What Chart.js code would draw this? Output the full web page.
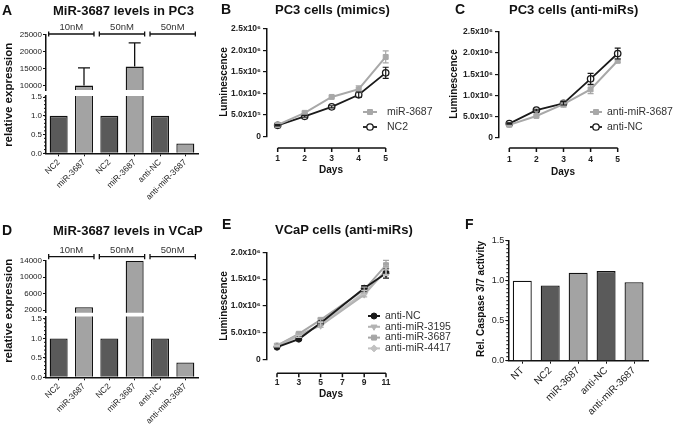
<!DOCTYPE html>
<html><head><meta charset="utf-8">
<script src="https://cdn.jsdelivr.net/npm/chart.js@4.4.0/dist/chart.umd.min.js"></script>
<style>
html,body{margin:0;padding:0;background:#fff;}
body{width:674px;height:424px;position:relative;overflow:hidden;font-family:"Liberation Sans",Arial,sans-serif;}
canvas{position:absolute;}
.t{position:absolute;white-space:nowrap;color:#111;font-weight:bold;line-height:1;}
.rot{position:absolute;white-space:nowrap;color:#111;font-weight:bold;line-height:1;text-align:center;transform:rotate(-90deg);}
.c{position:absolute;white-space:nowrap;color:#111;font-weight:bold;line-height:1;text-align:center;}
</style></head><body>
<canvas id="aTop"></canvas><canvas id="aBot"></canvas>
<canvas id="dTop"></canvas><canvas id="dBot"></canvas>
<canvas id="chB"></canvas><canvas id="chC"></canvas><canvas id="chE"></canvas><canvas id="chF"></canvas>

<div class="t" style="left:2px;top:3.2px;font-size:14px">A</div>
<div class="t" style="left:53px;top:4px;font-size:13px">MiR-3687 levels in PC3</div>
<div class="t" style="left:221px;top:1.7px;font-size:14px">B</div>
<div class="t" style="left:275px;top:2.5px;font-size:13px">PC3 cells (mimics)</div>
<div class="t" style="left:455px;top:1.7px;font-size:14px">C</div>
<div class="t" style="left:509px;top:2.5px;font-size:13px">PC3 cells (anti-miRs)</div>
<div class="t" style="left:2px;top:223.2px;font-size:14px">D</div>
<div class="t" style="left:53px;top:224px;font-size:13px">MiR-3687 levels in VCaP</div>
<div class="t" style="left:222px;top:217.2px;font-size:14px">E</div>
<div class="t" style="left:275px;top:223px;font-size:13px">VCaP cells (anti-miRs)</div>
<div class="t" style="left:465px;top:217.2px;font-size:14px">F</div>

<div class="rot" style="left:-66px;top:89px;width:150px;font-size:11.5px">relative expression</div>
<div class="rot" style="left:-66px;top:305px;width:150px;font-size:11.5px">relative expression</div>
<div class="rot" style="left:164px;top:77px;width:120px;font-size:10px">Luminescence</div>
<div class="rot" style="left:394px;top:79px;width:120px;font-size:10px">Luminescence</div>
<div class="rot" style="left:164px;top:301px;width:120px;font-size:10px">Luminescence</div>
<div class="rot" style="left:406px;top:294px;width:150px;font-size:10px">Rel. Caspase 3/7 activity</div>
<div class="c" style="left:301px;top:165.4px;width:60px;font-size:10px">Days</div>
<div class="c" style="left:533px;top:167px;width:60px;font-size:10px">Days</div>
<div class="c" style="left:301px;top:388.5px;width:60px;font-size:10px">Days</div>

<script>
// ---------------- data ----------------
const aCategories = ['NC2', 'miR-3687', 'NC2', 'miR-3687', 'anti-NC', 'anti-miR-3687'];
const aValues = [1, 10000, 1, 15600, 1, 0.26];
const aErrors = [0, 5200, 0, 7000, 0, 0];
const aTopTicks = [10000, 15000, 20000, 25000];
const aBottomTicks = [0, 0.5, 1, 1.5];

const concGroups = [[0, 1], [2, 3], [4, 5]];
const concLabels = ['10nM', '50nM', '50nM'];

const dCategories = ['NC2', 'miR-3687', 'NC2', 'miR-3687', 'anti-NC', 'anti-miR-3687'];
const dValues = [1, 2700, 1, 14000, 1, 0.38];
const dTopTicks = [2000, 6000, 10000, 14000];
const dBottomTicks = [0, 0.5, 1, 1.5];

const bDays = [1, 2, 3, 4, 5];
const bMiR3687 = [270000, 550000, 920000, 1100000, 1850000];
const bMiR3687Err = [15000, 20000, 25000, 80000, 140000];
const bNC2 = [260000, 470000, 690000, 970000, 1480000];
const bNC2Err = [15000, 20000, 25000, 60000, 130000];

const cDays = [1, 2, 3, 4, 5];
const cAntiMiR3687 = [300000, 510000, 790000, 1140000, 1820000];
const cAntiMiR3687Err = [15000, 20000, 70000, 100000, 50000];
const cAntiNC = [330000, 650000, 810000, 1390000, 1990000];
const cAntiNCErr = [15000, 20000, 40000, 130000, 130000];

const lumTickValues = [0, 500000, 1000000, 1500000, 2000000, 2500000];
const lumTickLabels = ['0', '5.0x10⁵', '1.0x10⁶', '1.5x10⁶', '2.0x10⁶', '2.5x10⁶'];
const dayTicks = [1, 2, 3, 4, 5];

const eDays = [1, 3, 5, 9, 11];
const eAntiNC = [230000, 380000, 680000, 1330000, 1610000];
const eAntiNCErr = [15000, 20000, 30000, 50000, 90000];
const eAntiMiR3195 = [260000, 460000, 630000, 1210000, 1670000];
const eAntiMiR3195Err = [15000, 20000, 30000, 40000, 80000];
const eAntiMiR3687 = [260000, 480000, 740000, 1300000, 1760000];
const eAntiMiR3687Err = [15000, 20000, 30000, 50000, 90000];
const eAntiMiR4417 = [250000, 430000, 660000, 1250000, 1640000];
const eAntiMiR4417Err = [15000, 20000, 30000, 40000, 70000];
const eTickValues = [0, 500000, 1000000, 1500000, 2000000];
const eTickLabels = ['0', '5.0x10⁵', '1.0x10⁶', '1.5x10⁶', '2.0x10⁶'];
const eDayTicks = [1, 3, 5, 7, 9, 11];

const fCategories = ['NT', 'NC2', 'miR-3687', 'anti-NC', 'anti-miR-3687'];
const fValues = [1.0, 0.94, 1.10, 1.12, 0.98];
const fTicks = [0, 0.5, 1.0, 1.5];

// ---------------- styling ----------------
const FONT = '"Liberation Sans", Arial, sans-serif';
Chart.defaults.font.family = FONT;
Chart.defaults.color = '#222';
const DARK = '#5a5a5a', LIGHT = '#a3a3a3', INK = '#111';

// ---------------- plugins ----------------
const errorBars = {
  id: 'errorBars',
  afterDatasetsDraw(chart, args, o) {
    const ctx = chart.ctx, ys = chart.scales.y, a = chart.chartArea;
    ctx.save();
    if (o.clip) { ctx.beginPath(); ctx.rect(a.left, a.top, a.right - a.left, a.bottom - a.top); ctx.clip(); }
    chart.data.datasets.forEach((ds, i) => {
      if (!ds.errors) return;
      const meta = chart.getDatasetMeta(i);
      ctx.strokeStyle = o.color || ds.borderColor;
      ctx.lineWidth = o.width;
      meta.data.forEach((el, j) => {
        const e = ds.errors[j]; if (!e) return;
        const raw = ds.data[j]; const v = (typeof raw === 'object') ? raw.y : raw;
        const yTop = ys.getPixelForValue(v + e);
        const yBot = o.upOnly ? ys.getPixelForValue(v) : ys.getPixelForValue(v - e);
        const x = el.x;
        ctx.beginPath();
        ctx.moveTo(x, yBot); ctx.lineTo(x, yTop);
        ctx.moveTo(x - o.cap, yTop); ctx.lineTo(x + o.cap, yTop);
        if (!o.upOnly) { ctx.moveTo(x - o.cap, yBot); ctx.lineTo(x + o.cap, yBot); }
        ctx.stroke();
      });
    });
    ctx.restore();
  }
};

const brackets = {
  id: 'brackets',
  afterDraw(chart, args, o) {
    const meta = chart.getDatasetMeta(0), ctx = chart.ctx;
    const y = chart.chartArea.top - o.dy;
    ctx.save();
    ctx.strokeStyle = INK; ctx.lineWidth = 1.3; ctx.fillStyle = '#333';
    ctx.font = o.font; ctx.textAlign = 'center'; ctx.textBaseline = 'alphabetic';
    o.groups.forEach((g, k) => {
      const e1 = meta.data[g[0]], e2 = meta.data[g[1]];
      const x1 = e1.x - e1.width / 2 - o.ext, x2 = e2.x + e2.width / 2 + o.ext;
      ctx.beginPath();
      ctx.moveTo(x1, y); ctx.lineTo(x2, y);
      ctx.moveTo(x1, y - o.cap); ctx.lineTo(x1, y + o.cap);
      ctx.moveTo(x2, y - o.cap); ctx.lineTo(x2, y + o.cap);
      ctx.stroke();
      ctx.fillText(o.labels[k], (x1 + x2) / 2, y - o.textDy);
    });
    ctx.restore();
  }
};

const minorTicks = {
  id: 'minorTicks',
  afterDraw(chart, args, o) {
    const ys = chart.scales.y, ctx = chart.ctx, x = chart.chartArea.left;
    ctx.save(); ctx.strokeStyle = INK; ctx.lineWidth = 1;
    const n = Math.floor((ys.max - ys.min) / o.step + 1e-6);
    ctx.beginPath();
    for (let k = 0; k <= n; k++) {
      const v = ys.min + k * o.step;
      const y = ys.getPixelForValue(v);
      ctx.moveTo(x, y); ctx.lineTo(x - o.len, y);
    }
    ctx.stroke(); ctx.restore();
  }
};

const offsetXAxis = {
  id: 'offsetXAxis',
  afterDraw(chart, args, o) {
    const xs = chart.scales.x, ctx = chart.ctx;
    const y = chart.chartArea.bottom + o.gap;
    const px = xs.ticks.map(t => xs.getPixelForValue(t.value));
    ctx.save(); ctx.strokeStyle = INK; ctx.lineWidth = 1.5;
    ctx.beginPath();
    ctx.moveTo(px[0], y); ctx.lineTo(px[px.length - 1], y);
    px.forEach(p => { ctx.moveTo(p, y); ctx.lineTo(p, y + o.len); });
    ctx.stroke(); ctx.restore();
  }
};

const inlineLegend = {
  id: 'inlineLegend',
  afterDraw(chart, args, o) {
    const ctx = chart.ctx;
    chart.data.datasets.forEach((ds, i) => {
      const y = o.y + i * o.rowH;
      ctx.save();
      ctx.strokeStyle = ds.borderColor; ctx.lineWidth = ds.borderWidth;
      ctx.beginPath(); ctx.moveTo(o.x, y); ctx.lineTo(o.x + o.len, y); ctx.stroke();
      ctx.fillStyle = ds.pointBackgroundColor; ctx.strokeStyle = ds.pointBorderColor; ctx.lineWidth = ds.pointBorderWidth;
      Chart.helpers.drawPoint(ctx, { pointStyle: ds.pointStyle, rotation: ds.pointRotation || 0, radius: ds.pointRadius, borderWidth: ds.pointBorderWidth }, o.x + o.len / 2, y);
      ctx.fillStyle = o.color; ctx.font = o.font; ctx.textBaseline = 'middle'; ctx.textAlign = 'left';
      ctx.fillText(ds.label, o.x + o.len + o.textGap, y);
      ctx.restore();
    });
  }
};

// ---------------- builders ----------------
function setup(id, rect, area) {
  const c = document.getElementById(id);
  c.width = rect[2]; c.height = rect[3];
  c.style.left = rect[0] + 'px'; c.style.top = rect[1] + 'px';
  c.style.width = rect[2] + 'px'; c.style.height = rect[3] + 'px';
  return {
    canvas: c,
    padding: { left: 0, top: area[1] - rect[1], right: rect[0] + rect[2] - area[2], bottom: 0 },
    yW: area[0] - rect[0],
    xH: rect[1] + rect[3] - area[3]
  };
}

function barChart(id, rect, area, o) {
  const s = setup(id, rect, area);
  return new Chart(s.canvas, {
    type: 'bar',
    data: { labels: o.labels, datasets: [{
      data: o.values, errors: o.errors, backgroundColor: o.colors, borderColor: INK,
      borderWidth: 1.3, barPercentage: o.barPct, categoryPercentage: 1, clip: 0 }] },
    options: {
      responsive: false, animation: false, events: [],
      layout: { padding: s.padding },
      plugins: {
        legend: { display: false }, tooltip: { enabled: false },
        errorBars: o.errors ? { clip: true, upOnly: true, cap: 6, width: 1.3, color: INK } : false,
        brackets: o.brackets || false,
        minorTicks: o.minor || false
      },
      scales: {
        x: {
          offset: true,
          border: { display: o.showX, color: INK, width: 1.5 },
          grid: { display: o.showX, drawOnChartArea: false, drawTicks: o.showX, tickLength: 3, offset: false, color: INK },
          ticks: { display: o.showX, font: { size: o.xFont }, color: '#222', maxRotation: 45, minRotation: 45, padding: 1, autoSkip: false },
          afterFit: sc => { sc.height = s.xH; sc.paddingLeft = 0; sc.paddingRight = 0; }
        },
        y: {
          min: o.min, max: o.max,
          border: { display: true, color: INK, width: 1.5 },
          grid: { drawOnChartArea: false, drawTicks: true, tickLength: 3, color: INK },
          ticks: { font: { size: o.yFont }, color: '#222', padding: 1, callback: o.fmt },
          afterBuildTicks: sc => { sc.ticks = o.ticks.map(v => ({ value: v })); },
          afterFit: sc => { sc.width = s.yW; sc.paddingTop = 0; sc.paddingBottom = 0; }
        }
      }
    },
    plugins: [errorBars, brackets, minorTicks]
  });
}

function lineChart(id, rect, area, o) {
  const s = setup(id, rect, area);
  return new Chart(s.canvas, {
    type: 'line',
    data: { datasets: o.series.map(sr => ({
      label: sr.label,
      data: o.days.map((d, i) => ({ x: d, y: sr.values[i] })),
      errors: sr.errors,
      borderColor: sr.color, borderWidth: sr.lw, backgroundColor: sr.fill,
      pointStyle: sr.style, pointRotation: sr.rot || 0, pointRadius: sr.r,
      pointBackgroundColor: sr.fill, pointBorderColor: sr.color, pointBorderWidth: sr.bw,
      tension: 0, clip: false
    })) },
    options: {
      responsive: false, animation: false, events: [],
      layout: { padding: s.padding },
      plugins: {
        legend: { display: false }, tooltip: { enabled: false },
        errorBars: { clip: false, upOnly: false, cap: 3, width: 1.2 },
        offsetXAxis: { gap: o.gap, len: 4 },
        inlineLegend: { x: o.legend[0] - rect[0], y: o.legend[1] - rect[1], rowH: o.legend[2], len: o.legend[3], textGap: o.legend[4],
          font: o.legend[5] + 'px ' + FONT, color: '#333' }
      },
      scales: {
        x: {
          type: 'linear', min: o.xmin, max: o.xmax,
          border: { display: false }, grid: { display: false, drawTicks: false },
          ticks: { font: { size: 8.5, weight: 'bold' }, color: '#222', padding: o.xPad },
          afterBuildTicks: sc => { sc.ticks = o.xTicks.map(v => ({ value: v })); },
          afterFit: sc => { sc.height = s.xH; sc.paddingLeft = 0; sc.paddingRight = 0; }
        },
        y: {
          min: 0, max: o.ymax,
          border: { display: true, color: INK, width: 1.5 },
          grid: { drawOnChartArea: false, drawTicks: true, tickLength: 4, color: INK, lineWidth: 1.2 },
          ticks: { font: { size: 8.5, weight: 'bold' }, color: '#222', padding: 2,
            callback: v => o.yLabels[o.yTicks.indexOf(v)] },
          afterBuildTicks: sc => { sc.ticks = o.yTicks.map(v => ({ value: v })); },
          afterFit: sc => { sc.width = s.yW; sc.paddingTop = 0; sc.paddingBottom = 0; }
        }
      }
    },
    plugins: [errorBars, offsetXAxis, inlineLegend]
  });
}

const pairColor = ctx => (ctx.dataIndex % 2 ? LIGHT : DARK);
const fColor = ctx => (ctx.dataIndex === 0 ? '#ffffff' : (ctx.dataIndex % 2 ? DARK : LIGHT));
const bracketOpts = dy => ({ groups: concGroups, labels: concLabels, dy: dy, ext: 1, cap: 2.6, textDy: 3.8, font: '9.5px ' + FONT });

// ---------------- panel A ----------------
barChart('aTop', [0, 12, 215, 84], [46, 34.7, 198, 90], {
  labels: aCategories, values: aValues, errors: aErrors, colors: pairColor, barPct: 0.71,
  min: 8700, max: 25000, ticks: aTopTicks, fmt: v => String(v), yFont: 8, xFont: 8.5,
  showX: false, brackets: bracketOpts(0.7)
});
barChart('aBot', [0, 86, 215, 126], [46, 96, 198, 153.3], {
  labels: aCategories, values: aValues, errors: null, colors: pairColor, barPct: 0.71,
  min: 0, max: 1.53, ticks: aBottomTicks, fmt: v => v.toFixed(1), yFont: 8, xFont: 8.5,
  showX: true, minor: { step: 0.1, len: 2 }
});

// ---------------- panel D ----------------
barChart('dTop', [0, 236, 215, 82], [46, 260.7, 198, 312.7], {
  labels: dCategories, values: dValues, errors: null, colors: pairColor, barPct: 0.71,
  min: 1350, max: 14000, ticks: dTopTicks, fmt: v => String(v), yFont: 8, xFont: 8.5,
  showX: false, brackets: bracketOpts(4)
});
barChart('dBot', [0, 306, 215, 118], [46, 316.5, 198, 377.3], {
  labels: dCategories, values: dValues, errors: null, colors: pairColor, barPct: 0.71,
  min: 0, max: 1.564, ticks: dBottomTicks, fmt: v => v.toFixed(1), yFont: 8, xFont: 8.5,
  showX: true, minor: { step: 0.1, len: 2 }
});

// ---------------- panel B ----------------
lineChart('chB', [218, 10, 232, 172], [267, 29, 385.7, 136.5], {
  days: bDays, xmin: 0.604, xmax: 5, xTicks: dayTicks, ymax: 2500000,
  yTicks: lumTickValues, yLabels: lumTickLabels, gap: 11.5, xPad: 17,
  legend: [363, 112, 15, 14, 10, 10.5],
  series: [
    { label: 'miR-3687', values: bMiR3687, errors: bMiR3687Err, color: '#a8a8a8', fill: '#a8a8a8', style: 'rect', r: 3.5, bw: 1, lw: 2 },
    { label: 'NC2', values: bNC2, errors: bNC2Err, color: '#1a1a1a', fill: '#ffffff', style: 'circle', r: 3.2, bw: 1.3, lw: 1.8 }
  ]
});

// ---------------- panel C ----------------
lineChart('chC', [452, 10, 222, 172], [499, 32, 617.7, 137.5], {
  days: cDays, xmin: 0.62, xmax: 5, xTicks: dayTicks, ymax: 2500000,
  yTicks: lumTickValues, yLabels: lumTickLabels, gap: 10.5, xPad: 17,
  legend: [590, 112, 15, 12, 5, 10.5],
  series: [
    { label: 'anti-miR-3687', values: cAntiMiR3687, errors: cAntiMiR3687Err, color: '#a8a8a8', fill: '#a8a8a8', style: 'rect', r: 3.5, bw: 1, lw: 2 },
    { label: 'anti-NC', values: cAntiNC, errors: cAntiNCErr, color: '#1a1a1a', fill: '#ffffff', style: 'circle', r: 3.2, bw: 1.3, lw: 1.8 }
  ]
});

// ---------------- panel E ----------------
lineChart('chE', [222, 236, 240, 160], [266.7, 252.3, 386, 359.5], {
  days: eDays, xmin: 0.055, xmax: 11, xTicks: eDayTicks, ymax: 2000000,
  yTicks: eTickValues, yLabels: eTickLabels, gap: 13.8, xPad: 18.5,
  legend: [368, 316, 10.8, 12, 5, 10.5],
  series: [
    { label: 'anti-NC', values: eAntiNC, errors: eAntiNCErr, color: '#1a1a1a', fill: '#1a1a1a', style: 'circle', r: 3, bw: 1, lw: 2 },
    { label: 'anti-miR-3195', values: eAntiMiR3195, errors: eAntiMiR3195Err, color: '#b3b3b3', fill: '#b3b3b3', style: 'triangle', rot: 180, r: 3.5, bw: 1, lw: 2 },
    { label: 'anti-miR-3687', values: eAntiMiR3687, errors: eAntiMiR3687Err, color: '#a6a6a6', fill: '#a6a6a6', style: 'rect', r: 3.5, bw: 1, lw: 2 },
    { label: 'anti-miR-4417', values: eAntiMiR4417, errors: eAntiMiR4417Err, color: '#c2c2c2', fill: '#c2c2c2', style: 'rectRot', r: 3.5, bw: 1, lw: 2 }
  ]
});

// ---------------- panel F ----------------
barChart('chF', [462, 226, 212, 198], [508.3, 240.7, 648, 360.7], {
  labels: fCategories, values: fValues, errors: null, colors: fColor, barPct: 0.68,
  min: 0, max: 1.5, ticks: fTicks, fmt: v => v.toFixed(1), yFont: 9, xFont: 10,
  showX: true, minor: { step: 0.05, len: 2 }
});
</script>
</body></html>
